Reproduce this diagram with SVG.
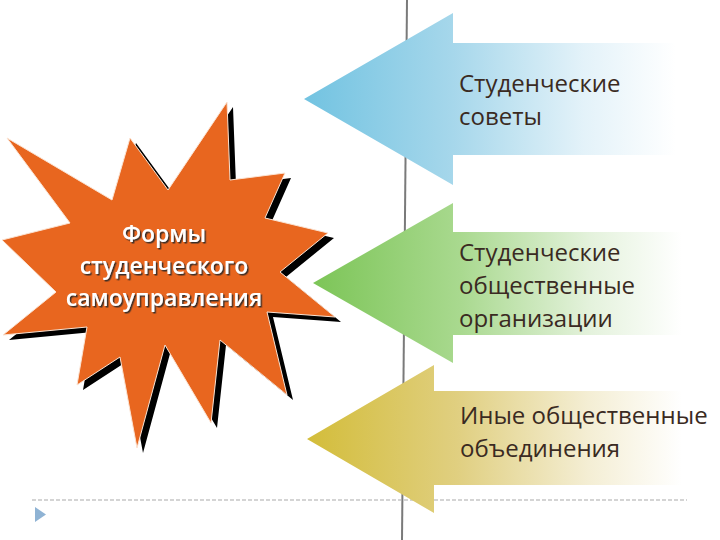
<svg xmlns="http://www.w3.org/2000/svg" xmlns:xlink="http://www.w3.org/1999/xlink" width="720" height="540" viewBox="0 0 720 540">
  <style>
    .lbl { font-family: "Open Sans", "Liberation Sans", sans-serif; font-size: 24px; fill: #3a2a22; }
    .star-lbl { font-family: "Open Sans", "Liberation Sans", sans-serif; font-size: 23px; font-weight: 600; fill: #ffffff; text-anchor: middle; filter: url(#txtShadow); }
  </style>
  <defs>
    <linearGradient id="gBlue" gradientUnits="userSpaceOnUse" x1="304" y1="0" x2="676" y2="0">
      <stop offset="0" stop-color="#72c3e1"/>
      <stop offset="0.4" stop-color="#a6d7eb"/>
      <stop offset="0.75" stop-color="#e3f2f9"/>
      <stop offset="1" stop-color="#ffffff"/>
    </linearGradient>
    <linearGradient id="gGreen" gradientUnits="userSpaceOnUse" x1="313" y1="0" x2="682" y2="0">
      <stop offset="0" stop-color="#7cc557"/>
      <stop offset="0.4" stop-color="#a9d98f"/>
      <stop offset="0.75" stop-color="#e4f2dc"/>
      <stop offset="1" stop-color="#ffffff"/>
    </linearGradient>
    <linearGradient id="gYellow" gradientUnits="userSpaceOnUse" x1="307" y1="0" x2="682" y2="0">
      <stop offset="0" stop-color="#d3bd3a"/>
      <stop offset="0.4" stop-color="#e0cf80"/>
      <stop offset="0.75" stop-color="#f4eed4"/>
      <stop offset="1" stop-color="#ffffff"/>
    </linearGradient>
    <filter id="txtShadow" x="-10%" y="-30%" width="120%" height="160%">
      <feDropShadow dx="1.5" dy="1.5" stdDeviation="0.4" flood-color="#2a2a2a" flood-opacity="0.9"/>
    </filter>
    <polygon id="starShape" points="7,138 112,200 130,138 168,190 227,102 230,180 285,173 265,218 328,233 280,272 335,317 267,312 287,395 220,340 211,423 165,345 137,448 120,357 77,385 87,327 3,335 56,292 2,240 70,223"/>
  </defs>

  <rect width="720" height="540" fill="#ffffff"/>

  <g id="connectors">
    <line x1="407" y1="0" x2="402" y2="540" stroke="#7a7a7a" stroke-width="2"/>
    <line x1="32" y1="500" x2="687" y2="500" stroke="#a9a9a9" stroke-width="1" stroke-dasharray="4,2"/>
    <polygon points="35,507 46,514.5 35,522" fill="#8fb3d4"/>
  </g>

  <g id="arrow-councils">
    <polygon points="304,99 453,13 453,43 676,43 676,155 453,155 453,185" fill="url(#gBlue)"/>
    <text class="lbl" x="459" y="92">Студенческие</text>
    <text class="lbl" x="459" y="125">советы</text>
  </g>

  <g id="arrow-organizations">
    <polygon points="313,283 453,203 453,232 682,232 682,335 453,335 453,363" fill="url(#gGreen)"/>
    <text class="lbl" x="459" y="261">Студенческие</text>
    <text class="lbl" x="459" y="294">общественные</text>
    <text class="lbl" x="459" y="327">организации</text>
  </g>

  <g id="arrow-associations">
    <polygon points="307,439 434,365 434,391 682,391 682,485 434,485 434,513" fill="url(#gYellow)"/>
    <text class="lbl" x="460" y="424">Иные общественные</text>
    <text class="lbl" x="460" y="457">объединения</text>
  </g>

  <g id="star">
    <use xlink:href="#starShape" transform="translate(6,5)" fill="#000000"/>
    <use xlink:href="#starShape" fill="#e8661f" stroke="#fbe3d2" stroke-width="1"/>
    <text class="star-lbl" x="164" y="242">Формы</text>
    <text class="star-lbl" x="164" y="274">студенческого</text>
    <text class="star-lbl" x="164" y="306">самоуправления</text>
  </g>
</svg>
